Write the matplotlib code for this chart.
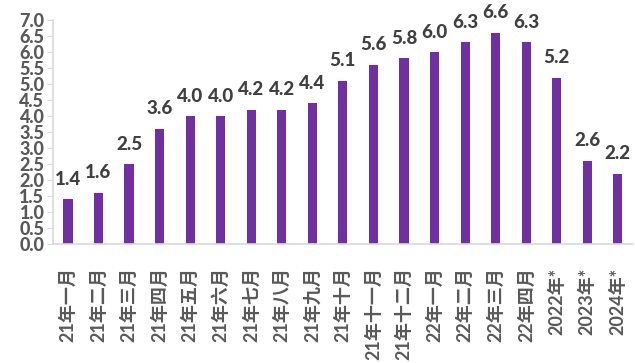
import matplotlib.pyplot as plt
import numpy as np

plt.rcParams['font.family'] = ['Lato', 'Noto Sans CJK SC', 'DejaVu Sans']

# 데이터
categories = ["21年一月", "21年二月", "21年三月", "21年四月", "21年五月", "21年六月",
              "21年七月", "21年八月", "21年九月", "21年十月", "21年十一月", "21年十二月",
              "22年一月", "22年二月", "22年三月", "22年四月", "2022年*", "2023年*", "2024年*"]
values = [1.4, 1.6, 2.5, 3.6, 4.0, 4.0, 4.2, 4.2, 4.4, 5.1, 5.6, 5.8,
          6.0, 6.3, 6.6, 6.3, 5.2, 2.6, 2.2]
y_ticks = np.arange(0, 7.01, 0.5)

fig = plt.figure(figsize=(6.35, 3.63), dpi=100)
ax = fig.add_axes([0.083, 0.328, 0.914, 0.617])

x = np.arange(len(categories))
ax.bar(x, values, width=0.3, color="#7030A0")

for xi, v in zip(x, values):
    ax.text(xi, v + 0.45, f"{v:.1f}", ha="center", va="baseline",
            fontsize=13.5, fontweight="black", color="#404040")

ax.set_xlim(-0.5, len(categories) - 0.5)
ax.set_ylim(0, 7.0)
ax.set_yticks(y_ticks)
ax.set_yticklabels([f"{t:.1f}" for t in y_ticks], fontsize=13,
                   fontweight="black", color="#595959")
ax.set_xticks(x)
ax.set_xticklabels(categories, rotation=90, fontsize=13, fontweight="bold",
                   color="#595959", va="top")
ax.tick_params(axis="x", length=0, pad=17)
ax.tick_params(axis="y", length=4, color="#D9D9D9", pad=2)

for s in ["top", "right"]:
    ax.spines[s].set_visible(False)
ax.spines["left"].set_color("#D9D9D9")
ax.spines["bottom"].set_color("#D9D9D9")
ax.spines["left"].set_linewidth(1.2)
ax.spines["bottom"].set_linewidth(1.2)

plt.savefig("out.png", dpi=100)
